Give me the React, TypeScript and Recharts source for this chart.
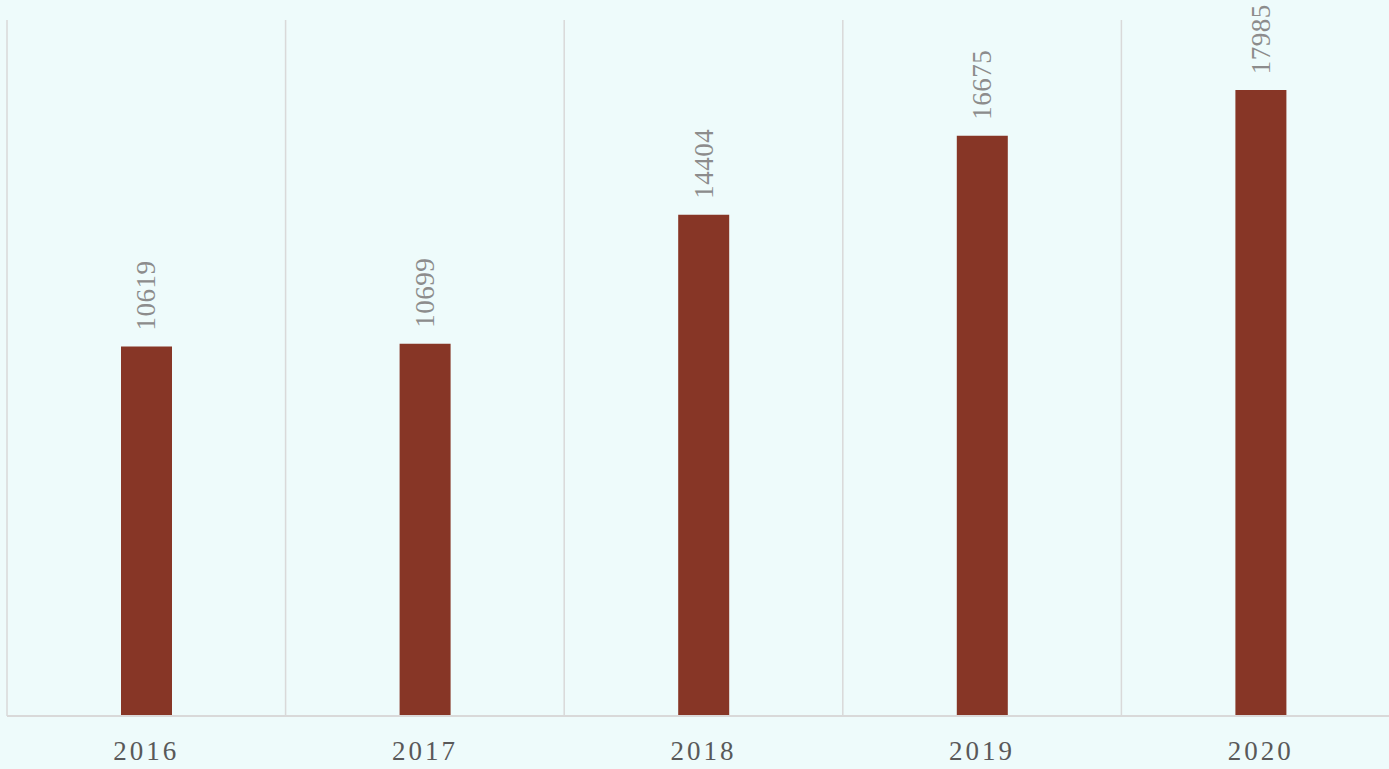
import { BarChart, Bar, XAxis, YAxis, CartesianGrid, LabelList } from 'recharts';

// values
const years = ['2016', '2017', '2018', '2019', '2020'];
const counts = [10619, 10699, 14404, 16675, 17985];

const data = years.map((year, i) => ({ year, count: counts[i] }));

const FONT = '"Liberation Serif", "DejaVu Serif", serif';

const BarLabel = (props: any) => {
  const { x, y, width, value } = props;
  const cx = Number(x) + Number(width) / 2;
  const ty = Number(y) - 16;
  return (
    <text
      x={cx}
      y={ty}
      transform={`rotate(-90, ${cx}, ${ty})`}
      textAnchor="start"
      dominantBaseline="central"
      fill="#8c8c8c"
      fontFamily={FONT}
      fontSize={27}
      letterSpacing={0.5}
    >
      {value}
    </text>
  );
};

export default function App() {
  return (
    <div
      style={{
        position: 'absolute',
        left: 0,
        top: 0,
        width: 1389,
        height: 769,
        overflow: 'hidden',
        background: '#eefbfb',
      }}
    >
      <BarChart
        width={1420}
        height={769}
        data={data}
        margin={{ top: 20, right: 20, left: 7, bottom: 0 }}
      >
        <CartesianGrid
          horizontal={false}
          stroke="#d9d9d9"
          strokeWidth={1.5}
          verticalCoordinatesGenerator={({ offset }: any) =>
            years.concat(['']).map((_, i) => offset.left + (i * offset.width) / years.length)
          }
        />
        <XAxis
          dataKey="year"
          height={53}
          axisLine={{ stroke: '#d9d9d9', strokeWidth: 2 }}
          tickLine={false}
          tickSize={0}
          tickMargin={25}
          tick={{ fill: '#595959', fontFamily: FONT, fontSize: 27, letterSpacing: 3 }}
          interval={0}
        />
        <YAxis hide domain={[0, 20000]} />
        <Bar dataKey="count" fill="#873626" barSize={51} isAnimationActive={false}>
          <LabelList dataKey="count" content={BarLabel} />
        </Bar>
      </BarChart>
    </div>
  );
}
